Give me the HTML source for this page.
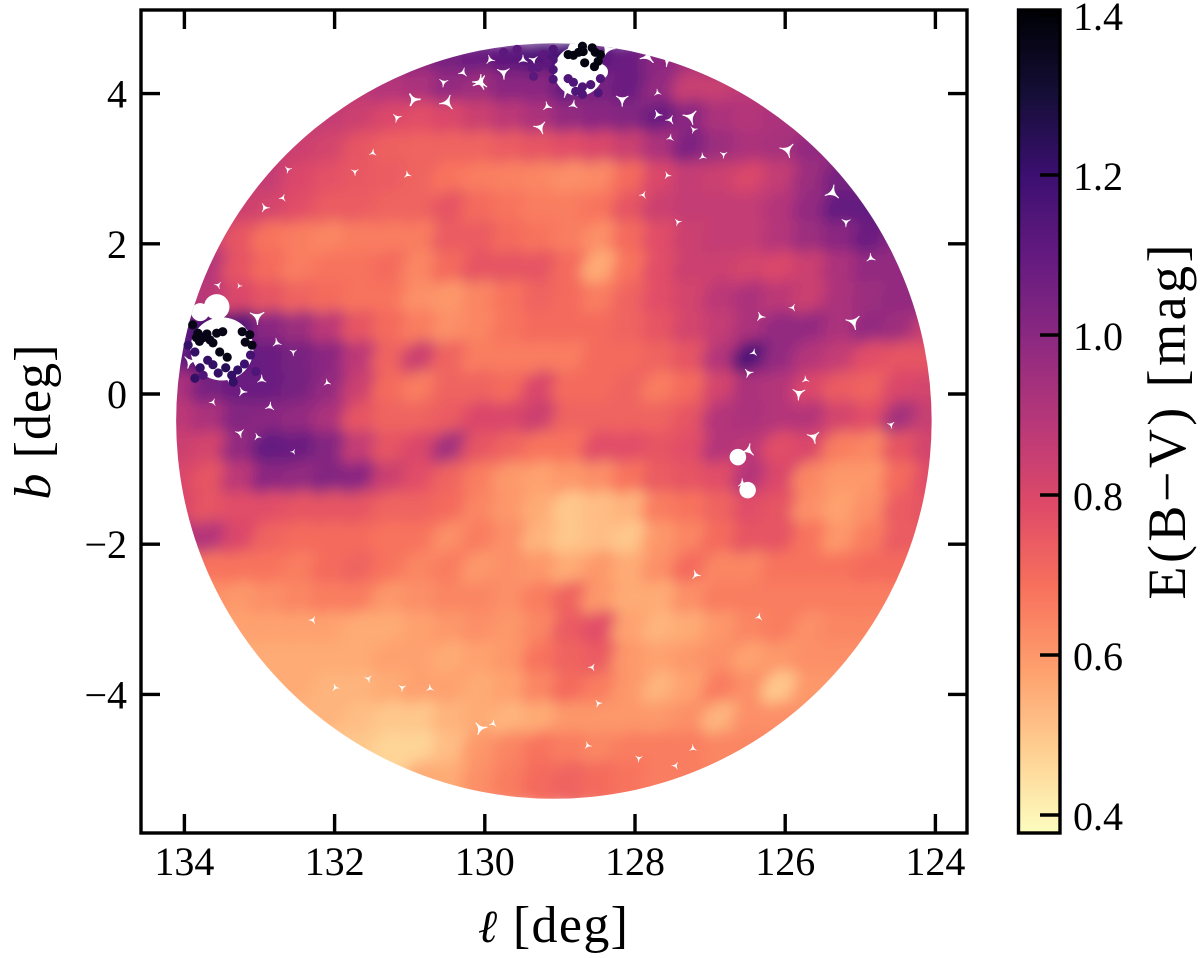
<!DOCTYPE html>
<html lang="en">
<head>
<meta charset="utf-8">
<title>E(B-V) extinction map</title>
<style>
html,body{margin:0;padding:0;background:#fff;width:1200px;height:958px;overflow:hidden}
svg{display:block}
text{font-family:"Liberation Serif","DejaVu Serif",serif;fill:#000}
</style>
</head>
<body>
<svg id="chart" xmlns="http://www.w3.org/2000/svg" width="1200" height="958" viewBox="0 0 1200 958">
  <defs>
    <filter id="soften" x="-5%" y="-5%" width="110%" height="110%"><feGaussianBlur stdDeviation="7"/></filter>
    <clipPath id="footprint-clip"><circle id="footprint-circle"/></clipPath>
    <linearGradient id="cbar-gradient" x1="0" y1="1" x2="0" y2="0"></linearGradient>
  </defs>
  <g id="map-layer"></g>
  <g id="axes-layer"></g>
  <g id="cbar-layer"></g>
</svg>
<script>
// Grid of sampled map positions (degrees)
const lonCentres = [134,133.6,133.2,132.8,132.4,132,131.6,131.2,130.8,130.4,130,129.6,129.2,128.8,128.4,128,127.6,127.2,126.8,126.4,126,125.6,125.2,124.8,124.4,124];
const latCentres = [4.4,4,3.6,3.2,2.8,2.4,2,1.6,1.2,0.8,0.4,0,-0.4,-0.8,-1.2,-1.6,-2,-2.4,-2.8,-3.2,-3.6,-4,-4.4,-4.8,-5.2];
// E(B-V) read per grid node; 0 = no stars
const ebvGrid = [
[0,0,0,0,0,0,0,0,1.0,1.05,1.08,1.12,1.15,1.2,1.12,1.08,1.0,.95,0,0,0,0,0,0,0,0],
[0,0,0,0,0,0,.88,.9,.92,.98,.95,1.0,1.0,1.1,1.05,1.08,.98,.85,.85,.88,0,0,0,0,0,0],
[0,0,0,0,0,.86,.84,.8,.78,.8,.84,.88,.92,.98,1.0,1.02,1.08,1.0,.92,.9,.92,0,0,0,0,0],
[0,0,0,0,.84,.82,.76,.73,.72,.72,.72,.74,.76,.78,.8,.84,.92,1.04,.96,.92,.93,.98,0,0,0,0],
[0,0,0,.86,.8,.77,.75,.74,.72,.68,.66,.65,.64,.62,.63,.7,.8,.86,.84,.8,.86,.96,1.05,0,0,0],
[0,0,.84,.82,.78,.74,.74,.72,.72,.76,.7,.68,.66,.66,.68,.76,.84,.86,.86,.86,.9,.98,1.1,1.1,0,0],
[0,.86,.76,.68,.66,.64,.66,.66,.66,.74,.74,.7,.68,.66,.62,.7,.78,.84,.86,.86,.9,.96,1.0,1.08,1.0,0],
[0,.9,.76,.7,.66,.68,.68,.7,.64,.7,.76,.76,.76,.7,.56,.68,.78,.84,.84,.82,.8,.84,.92,.98,.98,0],
[.92,.88,.8,.76,.72,.7,.68,.68,.62,.6,.64,.68,.72,.7,.66,.72,.78,.82,.88,.92,.88,.84,.92,.96,.98,0],
[1.1,1.2,1.15,1.0,.96,.88,.76,.7,.66,.62,.64,.68,.7,.7,.7,.72,.76,.82,.86,.92,.98,.98,.92,.98,.95,.85],
[1.1,1.2,1.12,1.08,1.05,1.0,.88,.72,.84,.72,.66,.66,.66,.66,.7,.7,.72,.76,.9,1.15,.98,.9,.86,.78,.76,.76],
[.92,1.05,1.08,1.08,1.05,.98,.84,.7,.66,.72,.72,.7,.8,.7,.7,.72,.66,.7,.82,.92,.9,.8,.74,.72,.8,.82],
[.88,.92,1.02,1.0,.98,.92,.76,.72,.72,.74,.8,.8,.84,.72,.72,.72,.72,.76,.9,.92,.9,.9,.82,.78,.94,.85],
[.84,.82,.98,1.1,1.08,1.02,.86,.76,.8,.94,.76,.72,.68,.68,.78,.78,.76,.78,.9,.88,.78,.8,.66,.64,.76,.82],
[.8,.76,.88,1.0,.98,1.02,1.0,.84,.78,.72,.66,.6,.58,.6,.62,.68,.74,.76,.78,.9,.8,.64,.6,.6,.7,.78],
[.8,.76,.78,.78,.76,.76,.76,.72,.72,.7,.64,.6,.56,.5,.52,.54,.66,.68,.72,.78,.76,.62,.58,.62,.74,.76],
[.9,.9,.8,.72,.7,.7,.7,.68,.68,.62,.66,.62,.54,.5,.52,.5,.6,.64,.7,.76,.76,.68,.6,.66,.74,0],
[0,.68,.68,.68,.66,.7,.72,.68,.64,.66,.6,.62,.6,.56,.6,.56,.62,.7,.64,.64,.68,.68,.68,.7,.7,0],
[0,.62,.6,.62,.64,.66,.66,.6,.62,.64,.64,.62,.66,.72,.6,.56,.56,.62,.66,.66,.66,.66,.66,.66,.66,0],
[0,0,.58,.58,.58,.58,.56,.56,.58,.6,.62,.6,.64,.74,.78,.58,.54,.56,.6,.64,.66,.62,.64,.64,0,0],
[0,0,0,.56,.56,.56,.56,.58,.58,.56,.58,.6,.68,.72,.74,.6,.58,.6,.62,.58,.6,.62,.62,0,0,0],
[0,0,0,0,.56,.54,.54,.56,.58,.58,.56,.58,.64,.7,.66,.6,.54,.58,.66,.62,.5,.6,0,0,0,0],
[0,0,0,0,0,.54,.52,.5,.5,.54,.56,.54,.56,.6,.6,.6,.6,.62,.54,.62,0,0,0,0,0,0],
[0,0,0,0,0,0,.5,.47,.47,.52,.6,.64,.68,.66,.64,.66,.66,.66,.64,0,0,0,0,0,0,0],
[0,0,0,0,0,0,0,0,0,.56,.62,.66,.7,.72,.7,.68,.66,0,0,0,0,0,0,0,0,0]
];
// Survey footprint [lon, lat, radius] in degrees
const footprintLon = 129.08;
const footprintLat = -0.36;
const footprintRadius = 5.03;
// Empty patches [lon, lat, radius] in degrees
const emptyPatches = [
[130.95,3.92,.07],[130.5,3.88,.08],[131.17,3.68,.05],[130.06,4.15,.08],[129.75,4.28,.07],[129.17,3.83,.05],[129.26,3.55,.07],
[132.93,2.48,.05],[132.69,2.61,.04],[132.62,2.99,.04],[131.49,3.21,.04],[131.73,2.96,.04],[131.03,2.92,.04],[133.55,1.45,.04],[133.27,1.44,.03],
[133.5,.6,.42],[133.57,1.16,.17],[133.79,1.09,.12],[133.03,1.03,.08],[132.77,.68,.05],[133.43,.23,.07],[133.23,.03,.05],[133.62,-.11,.04],[133.93,.43,.07],
[132.86,-.17,.05],[132.55,.56,.04],[132.1,.15,.04],
[128.75,4.3,.33],[128.7,4.55,.2],[128.46,4.29,.1],[128.91,4.05,.08],[128.82,3.85,.05],[128.17,3.92,.07],[127.7,4.01,.04],[127.26,3.69,.08],[127.7,3.72,.05],[127.53,3.65,.05],
[127.22,3.52,.04],[127.53,3.41,.04],[126.82,3.19,.04],[127.1,3.16,.04],[125.97,3.25,.08],[127.57,2.91,.04],[127.89,2.65,.04],[127.43,2.29,.04],[125.37,2.68,.08],[125.19,2.29,.05],
[124.86,1.81,.05],[125.09,.96,.08],[126.33,1.03,.05],[125.9,1.15,.04],[126.49,.28,.05],[126.42,.55,.04],[125.82,.01,.07],[125.73,.19,.04],
[133.26,-.52,.05],[133.03,-.57,.04],[132.55,-.77,.03],[130.06,-4.45,.07],[129.89,-4.39,.04],[131.1,-3.91,.04],[130.73,-3.92,.04],[131.55,-3.79,.04],[131.99,-3.91,.04],[132.29,-3.01,.04],
[126.63,-.84,.11],[126.49,-.75,.07],[126.5,-1.28,.11],[126.57,-1.19,.05],[125.62,-.57,.07],[127.19,-2.41,.05],[128.57,-3.64,.04],[128.49,-4.12,.04],[126.35,-2.97,.04],[127.95,-4.85,.04],[127.23,-4.72,.04],[124.59,-.41,.04],[128.63,-4.68,.04],[127.46,-4.95,.04],
[130.95,3.92,.07],[130.29,4.28,.05],[130.55,4.15,.05],[129.49,4.45,.05],[129.35,4.45,.05],[129.93,4.45,.05],[130.06,4.15,.08],[128.37,4.59,.08],[127.83,4.49,.08],[127.57,4.45,.07],
[132.97,.19,.05]
];
// Individually visible stars [lon, lat, E(B-V)]
const sparseStars = [
[128.89,4.52,1.38],[128.82,4.51,1.38],[128.75,4.55,1.38],[128.7,4.63,1.38],[128.69,4.56,1.38],[128.57,4.61,1.38],[128.53,4.55,1.38],[128.46,4.52,1.38],[128.49,4.43,1.38],[128.54,4.36,1.38],[128.67,4.41,1.38],
[129.09,4.59,1.15],[129.09,4.45,1.15],[129.09,4.32,1.15],[129.09,4.19,1.15],[128.89,4.2,1.15],[128.82,4.15,1.15],[128.7,4.09,1.15],[128.59,4.12,1.15],[128.46,4.2,1.15],[128.79,4.03,1.15],[128.7,3.99,1.15],[128.49,4.01,1.15],
[129.57,4.59,1.12],[129.75,4.55,1.12],[129.22,4.52,1.12],[129.29,4.35,1.12],[129.17,4.41,1.12],[129.35,4.23,1.12],[129.37,4.35,1.12],
[133.89,.92,1.37],[133.82,.81,1.37],[133.75,.75,1.37],[133.66,.72,1.37],[133.57,.81,1.37],[133.49,.83,1.37],[133.62,.68,1.37],[133.53,.56,1.37],[133.43,.49,1.37],[133.23,.83,1.37],[133.13,.79,1.37],[133.19,.69,1.37],[133.1,.65,1.37],[133.8,.7,1.37],[133.7,.8,1.37],[133.84,.75,1.37],
[133.95,.65,1.22],[133.86,.56,1.22],[133.69,.45,1.22],[133.62,.39,1.22],[133.55,.28,1.22],[133.37,.25,1.22],[133.29,.32,1.22],[133.35,.16,1.22],[133.79,.35,1.22],[133.86,.21,1.22],[133.2,.4,1.2],[133.12,.52,1.18],[133.05,.3,1.15],[133.75,.25,1.15],[133.45,.35,1.25]
];
// Tick labels
const xTicks = [134,132,130,128,126,124];
const yTicks = [4,2,0,-2,-4];
const cbarTicks = [0.4,0.6,0.8,1.0,1.2,1.4];
// Colour range
const ebvMin = 0.379;
const ebvMax = 1.4075;
const magmaStops = ["#000004","#140e36","#3b0f70","#641a80","#8c2981","#b73779","#de4968","#f7705c","#fe9f6d","#fecf92","#fcfdbf"];

const NS = "http://www.w3.org/2000/svg";
const PX_PER_DEG = 75.1;
const xScale = l => 484.8 + (130 - l) * PX_PER_DEG;
const yScale = b => 394 - b * PX_PER_DEG;
const cbarY = v => 175 + (1.2 - v) * 800;
const FRAME = {l:141, r:967, t:10, b:833};
const CBAR = {l:1018.5, r:1060, t:10, b:833};
const STROKE = 3.4;

function hexToRgb(h){return [1,3,5].map(i => parseInt(h.slice(i,i+2),16));}
function colorFor(v){
  const t = Math.min(1, Math.max(0, (v - ebvMin) / (ebvMax - ebvMin)));
  const p = (1 - t) * (magmaStops.length - 1);
  const i = Math.min(magmaStops.length - 2, Math.floor(p));
  const f = p - i;
  const a = hexToRgb(magmaStops[i]), c = hexToRgb(magmaStops[i + 1]);
  return "rgb(" + a.map((x, k) => Math.round(x + (c[k] - x) * f)).join(",") + ")";
}
function make(tag, attrs, parent, txt){
  const el = document.createElementNS(NS, tag);
  for (const k in attrs) el.setAttribute(k, attrs[k]);
  if (txt !== undefined) el.textContent = txt;
  parent.appendChild(el);
  return el;
}
// Concave three-cornered hole, the shape left between packed round markers
function holePath(cx, cy, r, turn){
  const R = r * 1.3;
  const cornerAt = k => {
    const a = turn + k * 2 * Math.PI / 3;
    return (cx + R * Math.cos(a)) + " " + (cy + R * Math.sin(a));
  };
  return "M" + cornerAt(0) +
    "Q" + cx + " " + cy + " " + cornerAt(1) +
    "Q" + cx + " " + cy + " " + cornerAt(2) +
    "Q" + cx + " " + cy + " " + cornerAt(0) + "Z";
}

const mapLayer = document.getElementById("map-layer");
const axesLayer = document.getElementById("axes-layer");
const cbarLayer = document.getElementById("cbar-layer");

// footprint clip
const fpc = document.getElementById("footprint-circle");
fpc.setAttribute("cx", xScale(footprintLon));
fpc.setAttribute("cy", yScale(footprintLat));
fpc.setAttribute("r", footprintRadius * PX_PER_DEG);

const clipGroup = make("g", {"clip-path":"url(#footprint-clip)"}, mapLayer);


const blurGroup = make("g", {filter:"url(#soften)"}, clipGroup);



ebvGrid.forEach((row, r) => {
  row.forEach((v, c) => {
    if (!v) return;
    const cx = xScale(lonCentres[c]), cy = yScale(latCentres[r]);
    const dot = make("circle", {cx:cx, cy:cy, r:24, fill:colorFor(v)}, blurGroup);
    
    
    // pad the rim of the footprint with the neighbouring reading
    const stepX = xScale(lonCentres[1]) - xScale(lonCentres[0]);
    if (c === 0 || !row[c - 1]) {
      const padL = make("circle", {cx:cx - stepX, cy:cy, r:24, fill:colorFor(v)}, blurGroup);
      
      
    }
    if (c === row.length - 1 || !row[c + 1]) {
      const padR = make("circle", {cx:cx + stepX, cy:cy, r:24, fill:colorFor(v)}, blurGroup);
      
      
    }
  });
});

emptyPatches.forEach((g, i) => {
  const px = xScale(g[0]), py = yScale(g[1]), pr = g[2] * PX_PER_DEG;
  let hole;
  if (g[2] >= 0.1) {
    hole = make("circle", {cx:px, cy:py, r:pr, fill:"#fff"}, clipGroup);
  } else {
    hole = make("path", {d:holePath(px, py, pr, i * 0.9), fill:"#fff", stroke:"#fff", "stroke-width":g[2] * 14, "stroke-linejoin":"round"}, clipGroup);
  }
  
  
});
sparseStars.forEach(s => {
  const star = make("circle", {cx:xScale(s[0]), cy:yScale(s[1]), r:4.6, fill:colorFor(s[2])}, mapLayer);
  
  
});

// main axes
const frame = make("rect", {x:FRAME.l, y:FRAME.t, width:FRAME.r - FRAME.l, height:FRAME.b - FRAME.t, fill:"none", stroke:"#000", "stroke-width":STROKE}, axesLayer);


const TICK = 19;
xTicks.forEach(t => {
  const x = xScale(t);
  const tb = make("line", {x1:x, x2:x, y1:FRAME.b, y2:FRAME.b - TICK, stroke:"#000", "stroke-width":STROKE}, axesLayer);
  
  
  const tt = make("line", {x1:x, x2:x, y1:FRAME.t, y2:FRAME.t + TICK, stroke:"#000", "stroke-width":STROKE}, axesLayer);
  
  
  const lab = make("text", {x:x, y:875, "font-size":40, "text-anchor":"middle"}, axesLayer, String(t));
  
  
});
yTicks.forEach(t => {
  const y = yScale(t);
  const tl = make("line", {x1:FRAME.l, x2:FRAME.l + TICK, y1:y, y2:y, stroke:"#000", "stroke-width":STROKE}, axesLayer);
  
  
  const tr = make("line", {x1:FRAME.r, x2:FRAME.r - TICK, y1:y, y2:y, stroke:"#000", "stroke-width":STROKE}, axesLayer);
  
  
  const lab = make("text", {x:127, y:y + 14, "font-size":40, "text-anchor":"end"}, axesLayer, t < 0 ? "\u2212" + Math.abs(t) : String(t));
  
  
});
const xTitle = make("text", {x:553, y:942, "font-size":52, "text-anchor":"middle", textLength:150, lengthAdjust:"spacing"}, axesLayer);


make("tspan", {"font-style":"italic", "font-family":"'DejaVu Serif','Liberation Serif',serif", "font-size":46}, xTitle, "\u2113");
make("tspan", {}, xTitle, " [deg]");
const yTitle = make("text", {transform:"translate(50,422) rotate(-90)", "font-size":52, "text-anchor":"middle", textLength:155, lengthAdjust:"spacing"}, axesLayer);


make("tspan", {"font-style":"italic"}, yTitle, "b");
make("tspan", {}, yTitle, " [deg]");

// colourbar
const grad = document.getElementById("cbar-gradient");
for (let i = 0; i <= 40; i++) {
  const frac = i / 40;
  make("stop", {offset:frac, "stop-color":colorFor(ebvMin + frac * (ebvMax - ebvMin))}, grad);
}
const bar = make("rect", {x:CBAR.l, y:CBAR.t, width:CBAR.r - CBAR.l, height:CBAR.b - CBAR.t, fill:"url(#cbar-gradient)", stroke:"#000", "stroke-width":STROKE}, cbarLayer);


cbarTicks.forEach(t => {
  const y = cbarY(t);
  const tk = make("line", {x1:CBAR.r, x2:CBAR.r - 20, y1:y, y2:y, stroke:"#000", "stroke-width":STROKE}, cbarLayer);
  
  
  const lab = make("text", {x:1073, y:y + 15, "font-size":40}, cbarLayer, t.toFixed(1));
  
  
});
const cTitle = make("text", {transform:"translate(1185,422) rotate(-90)", "font-size":54, "text-anchor":"middle", textLength:355, lengthAdjust:"spacing"}, cbarLayer, "E(B\u2212V) [mag]");


</script>
</body>
</html>
